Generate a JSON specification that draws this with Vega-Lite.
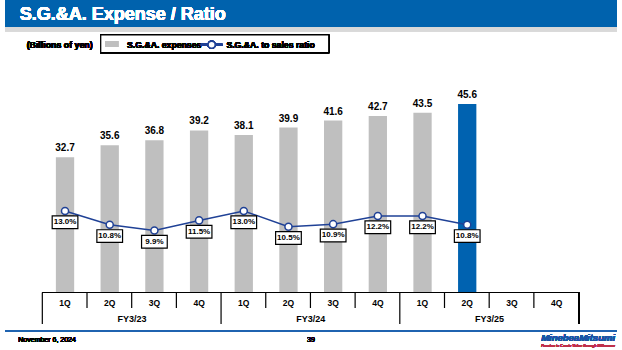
{
  "$schema": "https://vega.github.io/schema/vega-lite/v6.json",
  "width": 622,
  "height": 350,
  "autosize": {"type": "fit", "contains": "padding"},
  "padding": 0,
  "background": "white",
  "config": {"view": {"stroke": null}, "font": "Liberation Sans"},
  "data": {
    "values": [
      {"idx": 1, "fy": "FY3/23", "quarter": "1Q", "expense": 32.7, "ratio": 0.130},
      {"idx": 2, "fy": "FY3/23", "quarter": "2Q", "expense": 35.6, "ratio": 0.108},
      {"idx": 3, "fy": "FY3/23", "quarter": "3Q", "expense": 36.8, "ratio": 0.099},
      {"idx": 4, "fy": "FY3/23", "quarter": "4Q", "expense": 39.2, "ratio": 0.115},
      {"idx": 5, "fy": "FY3/24", "quarter": "1Q", "expense": 38.1, "ratio": 0.130},
      {"idx": 6, "fy": "FY3/24", "quarter": "2Q", "expense": 39.9, "ratio": 0.105},
      {"idx": 7, "fy": "FY3/24", "quarter": "3Q", "expense": 41.6, "ratio": 0.109},
      {"idx": 8, "fy": "FY3/24", "quarter": "4Q", "expense": 42.7, "ratio": 0.122},
      {"idx": 9, "fy": "FY3/25", "quarter": "1Q", "expense": 43.5, "ratio": 0.122},
      {"idx": 10, "fy": "FY3/25", "quarter": "2Q", "expense": 45.6, "ratio": 0.108},
      {"idx": 11, "fy": "FY3/25", "quarter": "3Q", "expense": null, "ratio": null},
      {"idx": 12, "fy": "FY3/25", "quarter": "4Q", "expense": null, "ratio": null}
    ]
  },
  "resolve": {"scale": {"y": "independent"}},
  "layer": [
    {
      "layer": [
        {
          "mark": {"type": "bar", "width": 18.3},
          "encoding": {
            "x": {"field": "idx", "type": "quantitative", "axis": null, "scale": {"domain": [-0.3433, 13.352], "nice": false, "zero": false}},
            "y": {"field": "expense", "type": "quantitative", "axis": null, "scale": {"domain": [-13.909, 70.755], "nice": false, "zero": false}},
            "y2": {"datum": 0},
            "color": {"condition": {"test": "datum.idx === 10", "value": "#0062b0"}, "value": "#bfbfbf"}
          }
        },
        {
          "mark": {"type": "text", "fontSize": 10, "fontWeight": "bold", "baseline": "middle", "dy": -9, "color": "black"},
          "encoding": {
            "x": {"field": "idx", "type": "quantitative", "axis": null},
            "y": {"field": "expense", "type": "quantitative", "axis": null},
            "text": {"field": "expense", "type": "quantitative", "format": ".1f"}
          }
        },
        {
          "mark": {"type": "rect", "color": "#0062ad"},
          "encoding": {
            "x": {"datum": -0.3433, "type": "quantitative", "axis": null},
            "x2": {"datum": 13.352},
            "y": {"datum": 70.755, "type": "quantitative", "axis": null},
            "y2": {"datum": 64.151}
          }
        },
        {
          "mark": {"type": "rect", "color": "#d9d9d9"},
          "encoding": {
            "x": {"datum": -0.3433, "type": "quantitative", "axis": null},
            "x2": {"datum": 13.352},
            "y": {"datum": 64.151, "type": "quantitative", "axis": null},
            "y2": {"datum": 63.135}
          }
        },
        {
          "mark": {"type": "text", "fontSize": 18, "fontWeight": "bold", "color": "white", "align": "left", "baseline": "middle"},
          "encoding": {
            "x": {"datum": -0.013, "type": "quantitative", "axis": null},
            "y": {"datum": 67.247, "type": "quantitative", "axis": null},
            "text": {"value": "S.G.&A. Expense / Ratio"}
          }
        },
        {
          "mark": {"type": "text", "fontSize": 8.8, "fontWeight": "bold", "color": "black", "align": "left", "baseline": "middle"},
          "encoding": {
            "x": {"datum": 0.141, "type": "quantitative", "axis": null},
            "y": {"datum": 59.942, "type": "quantitative", "axis": null},
            "text": {"value": "(Billions of yen)"}
          }
        },
        {
          "mark": {"type": "rect", "fill": "white", "stroke": "black", "strokeWidth": 1.2},
          "encoding": {
            "x": {"datum": 1.799, "type": "quantitative", "axis": null},
            "x2": {"datum": 6.901},
            "y": {"datum": 62.288, "type": "quantitative", "axis": null},
            "y2": {"datum": 58.007}
          }
        },
        {
          "mark": {"type": "rect", "color": "#bfbfbf"},
          "encoding": {
            "x": {"datum": 1.903, "type": "quantitative", "axis": null},
            "x2": {"datum": 2.189},
            "y": {"datum": 60.837, "type": "quantitative", "axis": null},
            "y2": {"datum": 59.386}
          }
        },
        {
          "mark": {"type": "text", "fontSize": 8.7, "fontWeight": "bold", "color": "black", "align": "left", "baseline": "middle"},
          "encoding": {
            "x": {"datum": 2.387, "type": "quantitative", "axis": null},
            "y": {"datum": 59.942, "type": "quantitative", "axis": null},
            "text": {"value": "S.G.&A. expenses"}
          }
        },
        {
          "mark": {"type": "rule", "color": "#1f4196", "strokeWidth": 2},
          "encoding": {
            "x": {"datum": 4.038, "type": "quantitative", "axis": null},
            "x2": {"datum": 4.523},
            "y": {"datum": 59.942, "type": "quantitative", "axis": null}
          }
        },
        {
          "mark": {"type": "point", "shape": "circle", "filled": true, "fill": "white", "stroke": "#1f4196", "strokeWidth": 1.5, "size": 50, "opacity": 1},
          "encoding": {
            "x": {"datum": 4.281, "type": "quantitative", "axis": null},
            "y": {"datum": 59.942, "type": "quantitative", "axis": null}
          }
        },
        {
          "mark": {"type": "text", "fontSize": 8.7, "fontWeight": "bold", "color": "black", "align": "left", "baseline": "middle"},
          "encoding": {
            "x": {"datum": 4.611, "type": "quantitative", "axis": null},
            "y": {"datum": 59.942, "type": "quantitative", "axis": null},
            "text": {"value": "S.G.&A. to sales ratio"}
          }
        },
        {
          "mark": {"type": "rule", "color": "black", "strokeWidth": 1.2},
          "encoding": {
            "x": {"datum": 0.5, "type": "quantitative", "axis": null},
            "x2": {"datum": 12.5},
            "y": {"datum": 0, "type": "quantitative", "axis": null}
          }
        },
        {
          "transform": [{"filter": "datum.quarter !== '1Q'"}],
          "mark": {"type": "rule", "color": "black", "strokeWidth": 1.2, "xOffset": -22.71},
          "encoding": {
            "x": {"field": "idx", "type": "quantitative", "axis": null},
            "y": {"datum": 0, "type": "quantitative", "axis": null},
            "y2": {"datum": -3.749}
          }
        },
        {
          "transform": [{"filter": "datum.quarter === '1Q'"}],
          "mark": {"type": "rule", "color": "black", "strokeWidth": 1.2, "xOffset": -22.71},
          "encoding": {
            "x": {"field": "idx", "type": "quantitative", "axis": null},
            "y": {"datum": 0, "type": "quantitative", "axis": null},
            "y2": {"datum": -7.62}
          }
        },
        {
          "mark": {"type": "rule", "color": "black", "strokeWidth": 1.2},
          "encoding": {
            "x": {"datum": 12.5, "type": "quantitative", "axis": null},
            "y": {"datum": 0, "type": "quantitative", "axis": null},
            "y2": {"datum": -7.62}
          }
        },
        {
          "mark": {"type": "text", "fontSize": 8.5, "fontWeight": "bold", "color": "black", "align": "center", "baseline": "middle"},
          "encoding": {
            "x": {"field": "idx", "type": "quantitative", "axis": null},
            "y": {"datum": -2.54, "type": "quantitative", "axis": null},
            "text": {"field": "quarter", "type": "nominal"}
          }
        },
        {
          "transform": [{"aggregate": [{"op": "mean", "field": "idx", "as": "center"}], "groupby": ["fy"]}],
          "mark": {"type": "text", "fontSize": 9, "fontWeight": "bold", "color": "black", "align": "center", "baseline": "middle"},
          "encoding": {
            "x": {"field": "center", "type": "quantitative", "axis": null},
            "y": {"datum": -6.41, "type": "quantitative", "axis": null},
            "text": {"field": "fy", "type": "nominal"}
          }
        },
        {
          "mark": {"type": "rule", "color": "#1f63b0", "strokeWidth": 2},
          "encoding": {
            "x": {"datum": -0.3433, "type": "quantitative", "axis": null},
            "x2": {"datum": 13.352},
            "y": {"datum": -9.313, "type": "quantitative", "axis": null}
          }
        },
        {
          "mark": {"type": "text", "fontSize": 7, "color": "black", "align": "left", "baseline": "middle"},
          "encoding": {
            "x": {"datum": -0.046, "type": "quantitative", "axis": null},
            "y": {"datum": -11.49, "type": "quantitative", "axis": null},
            "text": {"value": "November 6, 2024"}
          }
        },
        {
          "mark": {"type": "text", "fontSize": 7, "color": "black", "align": "center", "baseline": "middle"},
          "encoding": {
            "x": {"datum": 6.504, "type": "quantitative", "axis": null},
            "y": {"datum": -11.49, "type": "quantitative", "axis": null},
            "text": {"value": "39"}
          }
        },
        {
          "mark": {"type": "text", "fontSize": 9.5, "fontWeight": "bold", "fontStyle": "italic", "color": "#1a55a5", "align": "right", "baseline": "middle"},
          "encoding": {
            "x": {"datum": 13.308, "type": "quantitative", "axis": null},
            "y": {"datum": -11.127, "type": "quantitative", "axis": null},
            "text": {"value": "MinebeaMitsumi"}
          }
        },
        {
          "mark": {"type": "text", "fontSize": 3.6, "fontWeight": "bold", "fontStyle": "italic", "color": "#c0304a", "align": "right", "baseline": "middle"},
          "encoding": {
            "x": {"datum": 13.308, "type": "quantitative", "axis": null},
            "y": {"datum": -12.942, "type": "quantitative", "axis": null},
            "text": {"value": "Passion to Create Value through Difference"}
          }
        }
      ]
    },
    {
      "layer": [
        {
          "mark": {"type": "line", "color": "#1f4196", "strokeWidth": 1.5},
          "encoding": {
            "x": {"field": "idx", "type": "quantitative", "axis": null},
            "y": {"field": "ratio", "type": "quantitative", "axis": null, "scale": {"domain": [-0.09171, 0.46651], "nice": false, "zero": false}}
          }
        },
        {
          "mark": {"type": "point", "shape": "circle", "filled": true, "fill": "white", "stroke": "#1f4196", "strokeWidth": 1.5, "size": 50, "opacity": 1},
          "encoding": {
            "x": {"field": "idx", "type": "quantitative", "axis": null},
            "y": {"field": "ratio", "type": "quantitative", "axis": null}
          }
        },
        {
          "mark": {"type": "point", "shape": "M-1,-0.494H1V0.494H-1Z", "filled": true, "fill": "white", "stroke": "black", "strokeWidth": 1.2, "size": 660, "opacity": 1, "yOffset": 11.3},
          "encoding": {
            "x": {"field": "idx", "type": "quantitative", "axis": null},
            "y": {"field": "ratio", "type": "quantitative", "axis": null}
          }
        },
        {
          "mark": {"type": "text", "fontSize": 8, "fontWeight": "bold", "color": "black", "align": "center", "baseline": "middle", "dy": 11.3},
          "encoding": {
            "x": {"field": "idx", "type": "quantitative", "axis": null},
            "y": {"field": "ratio", "type": "quantitative", "axis": null},
            "text": {"field": "ratio", "type": "quantitative", "format": ".1%"}
          }
        }
      ]
    }
  ]
}
